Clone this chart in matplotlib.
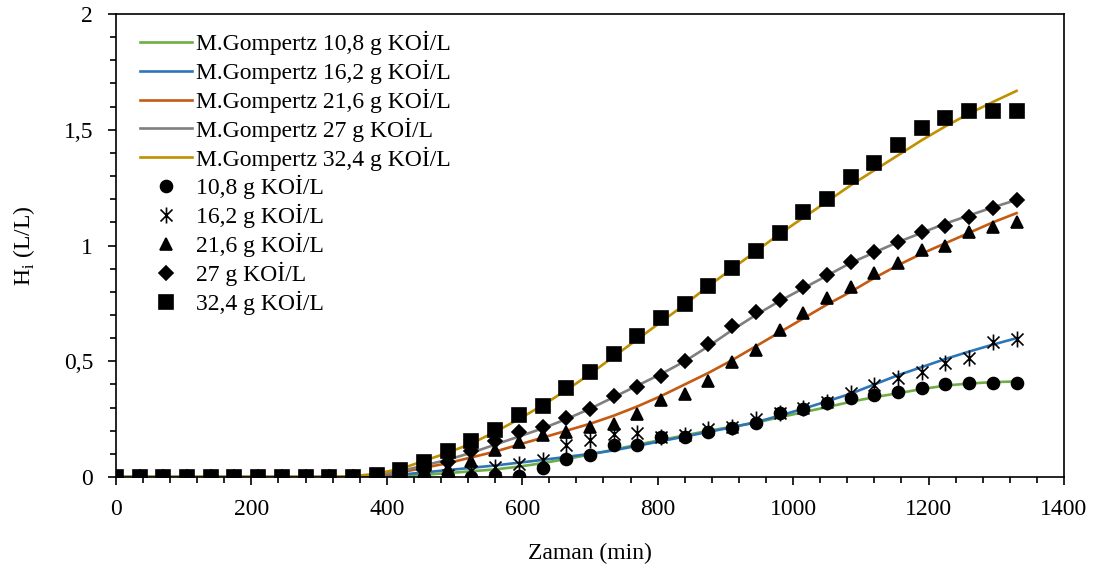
import numpy as np
import matplotlib
matplotlib.use('Agg')
import matplotlib.pyplot as plt
from matplotlib.path import Path
from matplotlib.ticker import MultipleLocator, FuncFormatter

plt.rcParams['font.family'] = ['Liberation Serif', 'DejaVu Serif']

# Time points (min)
time = [0, 35, 70, 105, 140, 175, 210, 245, 280, 315, 350, 385, 420, 455, 490, 525,
        560, 595, 630, 665, 700, 735, 770, 805, 840, 875, 910, 945, 980, 1015, 1050,
        1085, 1120, 1155, 1190, 1225, 1260, 1295, 1330]

# Measured hydrogen (L/L)
h_108 = [0] * 16 + [0.005, 0.005, 0.04, 0.08, 0.095, 0.138, 0.14, 0.171, 0.174, 0.196, 0.21,
                    0.234, 0.275, 0.295, 0.318, 0.34, 0.354, 0.368, 0.383, 0.402, 0.407, 0.407, 0.407]
h_162 = [0] * 13 + [0.005, 0.01, 0.025, 0.045, 0.055, 0.073, 0.138, 0.16, 0.185, 0.189, 0.175,
                    0.181, 0.206, 0.217, 0.25, 0.278, 0.298, 0.322, 0.364, 0.397, 0.426, 0.455,
                    0.494, 0.513, 0.585, 0.595]
h_216 = [0] * 12 + [0.01, 0.02, 0.035, 0.07, 0.115, 0.153, 0.181, 0.196, 0.217, 0.23, 0.272,
                    0.333, 0.359, 0.416, 0.498, 0.549, 0.636, 0.709, 0.772, 0.82, 0.882, 0.923,
                    0.98, 1.0, 1.058, 1.081, 1.103]
h_27 = [0] * 12 + [0.02, 0.03, 0.065, 0.113, 0.157, 0.193, 0.217, 0.254, 0.293, 0.35, 0.39,
                   0.436, 0.5, 0.573, 0.652, 0.714, 0.765, 0.82, 0.873, 0.928, 0.973, 1.016,
                   1.06, 1.083, 1.123, 1.16, 1.195]
h_324 = [0] * 11 + [0.01, 0.03, 0.066, 0.113, 0.155, 0.205, 0.27, 0.305, 0.383, 0.455, 0.532,
                    0.609, 0.685, 0.748, 0.825, 0.901, 0.975, 1.053, 1.145, 1.2, 1.297, 1.355,
                    1.433, 1.506, 1.549, 1.582, 1.582, 1.582]

# Modified Gompertz fits
g_108 = [0] * 12 + [0.005, 0.01, 0.017, 0.025, 0.033, 0.045, 0.06, 0.078, 0.097, 0.118, 0.14,
                    0.16, 0.18, 0.2, 0.217, 0.235, 0.258, 0.28, 0.302, 0.325, 0.345, 0.362,
                    0.38, 0.395, 0.404, 0.41, 0.413]
g_162 = [0] * 12 + [0.01, 0.02, 0.03, 0.04, 0.05, 0.062, 0.074, 0.087, 0.1, 0.115, 0.135,
                    0.155, 0.175, 0.195, 0.215, 0.237, 0.265, 0.295, 0.327, 0.36, 0.4, 0.44,
                    0.475, 0.51, 0.542, 0.572, 0.6]
g_216 = [0] * 11 + [0.005, 0.02, 0.04, 0.06, 0.085, 0.11, 0.14, 0.17, 0.2, 0.23, 0.265, 0.305,
                    0.35, 0.4, 0.45, 0.505, 0.565, 0.625, 0.685, 0.745, 0.8, 0.86, 0.915,
                    0.965, 1.01, 1.055, 1.1, 1.14]
g_27 = [0] * 10 + [0.002, 0.01, 0.025, 0.05, 0.075, 0.105, 0.14, 0.175, 0.21, 0.25, 0.295,
                   0.345, 0.395, 0.445, 0.5, 0.565, 0.635, 0.7, 0.76, 0.815, 0.87, 0.925,
                   0.97, 1.015, 1.055, 1.095, 1.13, 1.165, 1.197]
g_324 = [0] * 10 + [0.003, 0.015, 0.035, 0.07, 0.105, 0.145, 0.195, 0.25, 0.31, 0.375, 0.445,
                    0.52, 0.595, 0.67, 0.745, 0.825, 0.9, 0.975, 1.05, 1.12, 1.19, 1.26, 1.325,
                    1.39, 1.455, 1.515, 1.57, 1.62, 1.668]

labels = ['10,8 g KOİ/L', '16,2 g KOİ/L', '21,6 g KOİ/L', '27 g KOİ/L', '32,4 g KOİ/L']
fits = [g_108, g_162, g_216, g_27, g_324]
meas = [h_108, h_162, h_216, h_27, h_324]
line_colors = ['#70AD47', '#2E75B6', '#C55A11', '#7F7F7F', '#BF9000']

# Excel-like star: X with a vertical bar
star = Path([(0, -1), (0, 1), (-0.75, -0.75), (0.75, 0.75), (-0.75, 0.75), (0.75, -0.75)],
            [Path.MOVETO, Path.LINETO, Path.MOVETO, Path.LINETO, Path.MOVETO, Path.LINETO])
markers = [('o', 8.6), (star, 11.5), ('^', 8.5), ('D', 7.6), ('s', 10.2)]

fig = plt.figure(figsize=(10.98, 5.72), dpi=100)
ax = fig.add_axes([0.1056, 0.166, 0.8634, 0.8095])

for lab, vals, col in zip(labels, fits, line_colors):
    ax.plot(time, vals, color=col, linewidth=1.9, label='M.Gompertz ' + lab, zorder=2)

for lab, vals, (mk, ms) in zip(labels, meas, markers):
    ax.plot(time, vals, linestyle='none', marker=mk, markersize=ms, color='black',
            markeredgewidth=1.2, label=lab, zorder=3)

ax.set_xlim(0, 1400)
ax.set_ylim(0, 2)
ax.xaxis.set_major_locator(MultipleLocator(200))
ax.xaxis.set_minor_locator(MultipleLocator(40))
ax.yaxis.set_major_locator(MultipleLocator(0.5))
ax.yaxis.set_minor_locator(MultipleLocator(0.1))
ax.yaxis.set_major_formatter(FuncFormatter(lambda v, p: ('%g' % v).replace('.', ',')))

ax.tick_params(which='both', direction='out', labelsize=17, colors='black')
ax.tick_params(axis='x', which='major', length=5.5, width=1.2, pad=10.5)
ax.tick_params(axis='x', which='minor', length=4.5, width=1.2)
ax.tick_params(axis='y', which='major', length=5.5, width=1.2, pad=11)
ax.tick_params(axis='y', which='minor', length=4.3, width=1.2)
for s in ax.spines.values():
    s.set_linewidth(1.2)

ax.set_xlabel('Zaman (min)', fontsize=17, labelpad=16)
ax.set_ylabel(r'H$_\mathregular{i}$ (L/L)', fontsize=17, labelpad=19)

ax.legend(loc='upper left', bbox_to_anchor=(0.025, 0.9635), frameon=False, fontsize=17,
          handlelength=2.2, handletextpad=0.2, labelspacing=0.2, borderpad=0,
          borderaxespad=0, numpoints=1)

plt.savefig('out.png', dpi=100)
